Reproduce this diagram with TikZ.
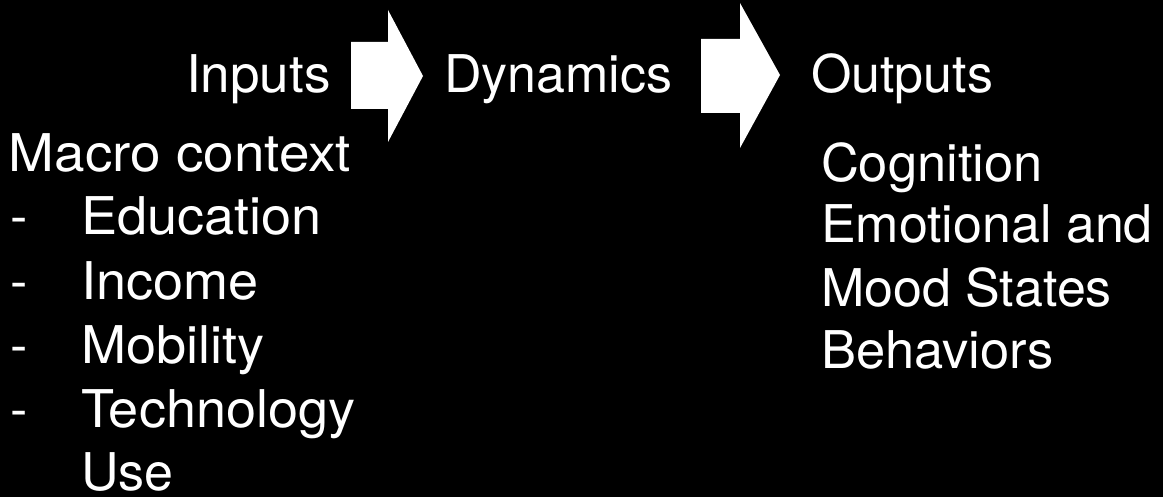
\documentclass[tikz,border=0pt]{standalone}
\usepackage{fontspec}
\usepackage{graphicx}
\setmainfont{TeX Gyre Heros}
\begin{document}
\begin{tikzpicture}[x=1pt,y=-1pt,
  lbl/.style={anchor=base west,inner sep=0pt,outer sep=0pt,text=white,font=\fontsize{52}{62}\selectfont},
  blockarrow/.style={fill=white,draw=none}]
\fill[black] (0,0) rectangle (1163,497);
\useasboundingbox (0,0) rectangle (1163,497);
% headers
\node[lbl] (inputs) at (186,93) {\scalebox{1.02}[1]{Inputs}};
\node[lbl] (dynamics) at (444,93) {Dynamics};
\node[lbl] (outputs) at (811,93) {Outputs};
% block arrows
\fill[blockarrow] (351,42) -- (388,42) -- (388,10) -- (423,76) -- (388,142) -- (388,109) -- (351,109) -- cycle;
\fill[blockarrow] (701,39) -- (740,39) -- (740,3) -- (780,75) -- (740,148) -- (740,113) -- (701,113) -- cycle;
% left column
\node[lbl] (macro) at (9,172) {\scalebox{1.055}[1]{Macro context}};
\foreach \y/\t/\n in {235/Education/edu,300/Income/inc,363/Mobility/mob,427/Technology/tech}{
  \node[lbl] (d\n) at (10,\y) {-};
  \node[lbl] (\n) at (81,\y) {\scalebox{1.04}[1]{\t}};
}
\node[lbl] (use) at (81,490) {Use};
% right column
\node[lbl] (cog) at (821,182) {\scalebox{1.01}[1]{Cognition}};
\node[lbl] (emo) at (821,243) {Emotional and};
\node[lbl] (mood) at (821,307) {Mood States};
\node[lbl] (beh) at (821,368) {\scalebox{1.01}[1]{Behaviors}};
\end{tikzpicture}
\end{document}
